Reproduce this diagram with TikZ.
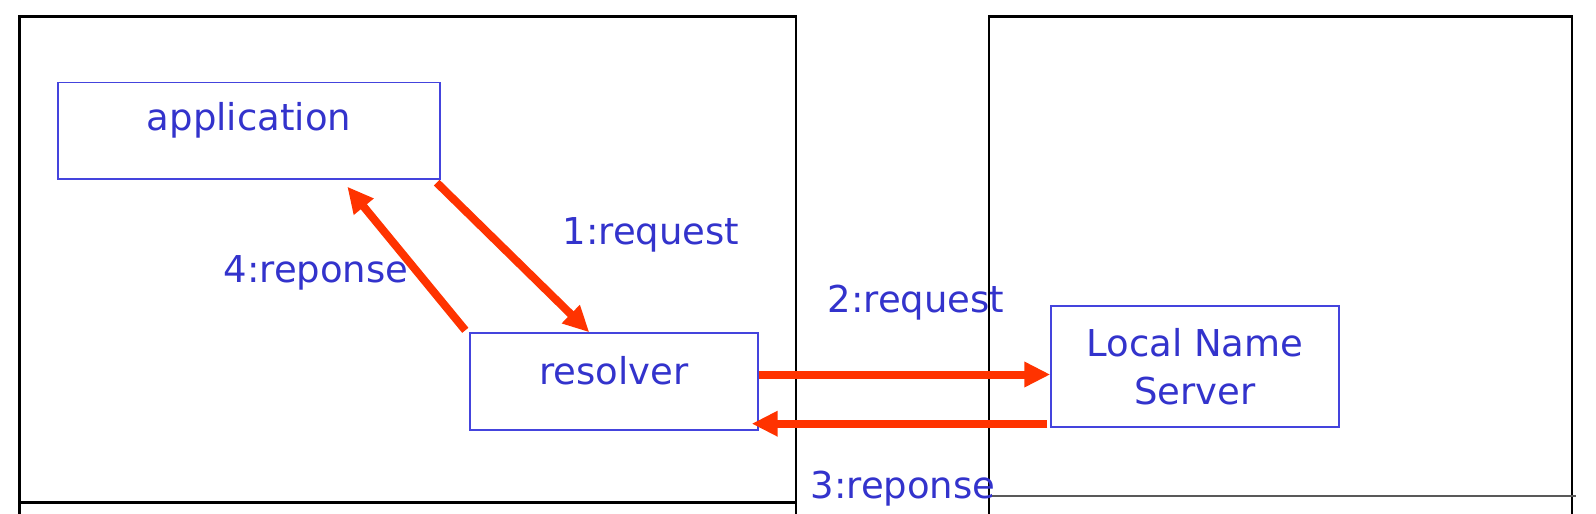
\documentclass[tikz,border=0pt]{standalone}
\usepackage{fontspec}
\setmainfont{DejaVu Sans}
\usetikzlibrary{arrows.meta, positioning}
\definecolor{txtblue}{RGB}{51,51,204}
\definecolor{boxblue}{RGB}{68,68,221}
\definecolor{arrred}{RGB}{255,51,0}

\begin{document}
\begin{tikzpicture}[x=1pt, y=-1pt, >={Triangle[length=26pt,width=24pt]},
  lbl/.style={text=txtblue, font=\fontsize{37}{48}\selectfont},
  comp/.style={draw=boxblue, line width=1.4pt, lbl, inner sep=0pt, align=center},
  msg/.style={->, draw=arrred, line width=8pt},
  frame/.style={draw=black, line width=2.2pt}]
  \useasboundingbox (0,0) rectangle (1596,514);

  % the two hosts
  \draw[frame] (19.5,514) -- (19.5,16.5) -- (796,16.5) -- (796,514);
  \draw[frame, line width=3pt] (19.5,502) -- (796,502);
  \draw[frame] (989,514) -- (989,16.5) -- (1572,16.5) -- (1572,514);
  \draw[frame, draw=black!65, line width=1.8pt] (989,496) -- (1576,496);

  % components
  \node[comp, minimum width=382pt, minimum height=96.5pt, text depth=28pt] (app) at (249,130.7) {application};
  \node[comp, minimum width=288pt, minimum height=97pt, text depth=22pt] (res) at (614,381.5) {resolver};
  \node[comp, minimum width=288pt, minimum height=121pt] (lns) at (1195,366.5) {Local Name\\Server};

  % messages
  \draw[msg] ([xshift=-4pt,yshift=-3pt]app.south east) -- ([xshift=120pt]res.north west);
  \draw[msg] ([xshift=-4pt,yshift=2pt]res.north west) -- ([xshift=290pt,yshift=-7pt]app.south west);
  \draw[msg] ([yshift=7pt]res.east) -- ([yshift=-8pt]lns.west);
  \draw[msg] ([xshift=-3pt,yshift=4pt]lns.south west) -- ([xshift=-7pt,yshift=7pt]res.south east);

  \node[lbl] (l1) at (651,235) {1:request};
  \node[lbl] (l4) at (316,273) {4:reponse};
  \node[lbl] (l2) at (916,303) {2:request};
  \node[lbl] (l3) at (903,489) {3:reponse};
\end{tikzpicture}
\end{document}
